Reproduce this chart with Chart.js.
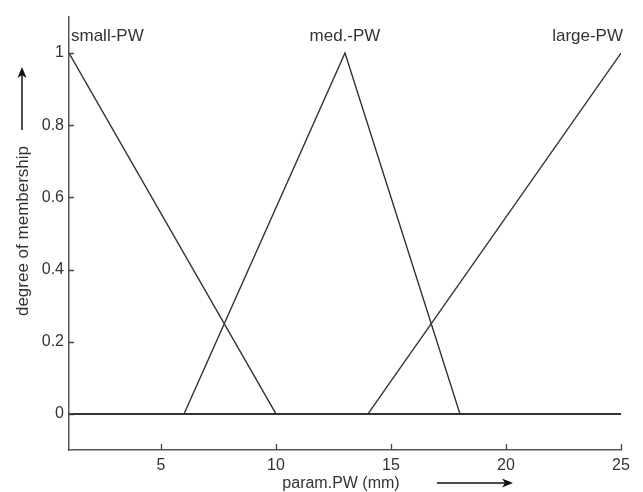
<!DOCTYPE html>
<html>
<head>
<meta charset="utf-8">
<script src="https://cdn.jsdelivr.net/npm/chart.js@4.4.1/dist/chart.umd.min.js"></script>
<style>
  html, body { margin: 0; padding: 0; background: #fff; }
  #wrap { width: 643px; height: 492px; }
</style>
</head>
<body>
<div id="wrap"><canvas id="chart" width="643" height="492"></canvas></div>
<script>
// membership functions (x in mm, y = degree)
const smallX = [1, 10];
const smallY = [1, 0];
const medX = [6, 13, 18];
const medY = [0, 1, 0];
const largeX = [14, 25];
const largeY = [0, 1];
const baseX = [1, 25];
const baseY = [0, 0];

const xTicks = [5, 10, 15, 20, 25];
const yTicks = [0, 0.2, 0.4, 0.6, 0.8, 1];
const setNames = ['small-PW', 'med.-PW', 'large-PW'];
const setPeaks = [1, 13, 25];

const FONT = '"Liberation Sans", Arial, sans-serif';
const INK = '#333';

function pts(xs, ys) {
    return xs.map((x, i) => ({ x: x, y: ys[i] }));
}

function lineSet(xs, ys, w) {
    return {
        data: pts(xs, ys),
        borderColor: INK,
        borderWidth: w,
        pointRadius: 0,
        tension: 0,
        fill: false
    };
}

function arrow(ctx, x1, y1, x2, y2) {
    const a = Math.atan2(y2 - y1, x2 - x1);
    ctx.beginPath();
    ctx.moveTo(x1, y1);
    ctx.lineTo(x2 - 8 * Math.cos(a), y2 - 8 * Math.sin(a));
    ctx.stroke();
    ctx.beginPath();
    ctx.moveTo(x2, y2);
    ctx.lineTo(x2 - 11 * Math.cos(a) + 4.5 * Math.sin(a), y2 - 11 * Math.sin(a) - 4.5 * Math.cos(a));
    ctx.lineTo(x2 - 8 * Math.cos(a), y2 - 8 * Math.sin(a));
    ctx.lineTo(x2 - 11 * Math.cos(a) - 4.5 * Math.sin(a), y2 - 11 * Math.sin(a) + 4.5 * Math.cos(a));
    ctx.closePath();
    ctx.fill();
}

// inward tick marks, set labels, axis titles with arrows
const decorations = {
    id: 'decorations',
    afterDraw(chart) {
        const ctx = chart.ctx;
        const xs = chart.scales.x;
        const ys = chart.scales.y;
        const area = chart.chartArea;
        ctx.save();
        ctx.strokeStyle = '#444';
        ctx.fillStyle = INK;
        ctx.lineWidth = 1.3;

        ctx.beginPath();
        xTicks.forEach(v => {
            const px = Math.round(xs.getPixelForValue(v)) + 0.5;
            ctx.moveTo(px, area.bottom);
            ctx.lineTo(px, area.bottom - 6);
        });
        yTicks.forEach(v => {
            const py = Math.round(ys.getPixelForValue(v)) + 0.5;
            ctx.moveTo(area.left, py);
            ctx.lineTo(area.left + 5, py);
        });
        ctx.stroke();

        ctx.font = '17px ' + FONT;
        ctx.textBaseline = 'middle';
        const ty = ys.getPixelForValue(1) - 17;
        ['left', 'center', 'right'].forEach((al, i) => {
            ctx.textAlign = al;
            let px = xs.getPixelForValue(setPeaks[i]);
            if (al === 'left') px += 2;
            if (al === 'right') px += 2;
            ctx.fillText(setNames[i], px, ty);
        });

        // x title
        ctx.font = '16px ' + FONT;
        ctx.textAlign = 'center';
        ctx.fillText('param.PW (mm)', 341, 484);
        ctx.lineWidth = 1.5;
        ctx.strokeStyle = '#111';
        ctx.fillStyle = '#111';
        arrow(ctx, 437, 483, 513, 483);

        // y title
        ctx.font = '17px ' + FONT;
        ctx.fillStyle = INK;
        ctx.save();
        ctx.translate(23, 231);
        ctx.rotate(-Math.PI / 2);
        ctx.fillText('degree of membership', 0, 0);
        ctx.restore();
        ctx.fillStyle = '#111';
        arrow(ctx, 22, 130, 22, 67);
        ctx.restore();
    }
};

new Chart(document.getElementById('chart'), {
    type: 'line',
    data: {
        datasets: [
            lineSet(baseX, baseY, 2),
            lineSet(smallX, smallY, 1.4),
            lineSet(medX, medY, 1.4),
            lineSet(largeX, largeY, 1.4)
        ]
    },
    options: {
        responsive: false,
        animation: false,
        events: [],
        layout: { padding: { top: 17, right: 22, left: 0, bottom: 0 } },
        plugins: {
            legend: { display: false },
            tooltip: { enabled: false }
        },
        scales: {
            x: {
                type: 'linear',
                min: 1,
                max: 25,
                afterBuildTicks: s => { s.ticks = xTicks.map(v => ({ value: v })); },
                afterFit: s => { s.height = 42; },
                grid: { display: false, drawTicks: false },
                border: { display: true, color: '#555', width: 1.5 },
                ticks: {
                    color: INK,
                    padding: 6,
                    maxRotation: 0,
                    font: { family: FONT, size: 16 },
                    callback: v => String(v)
                }
            },
            y: {
                type: 'linear',
                min: -0.1,
                max: 1.1,
                afterBuildTicks: s => { s.ticks = yTicks.map(v => ({ value: v })); },
                afterFit: s => { s.width = 69; },
                grid: { display: false, drawTicks: false },
                border: { display: true, color: '#555', width: 1.5 },
                ticks: {
                    color: INK,
                    padding: 5,
                    font: { family: FONT, size: 16 },
                    callback: v => String(+v.toFixed(1))
                }
            }
        }
    },
    plugins: [decorations]
});
</script>
</body>
</html>
